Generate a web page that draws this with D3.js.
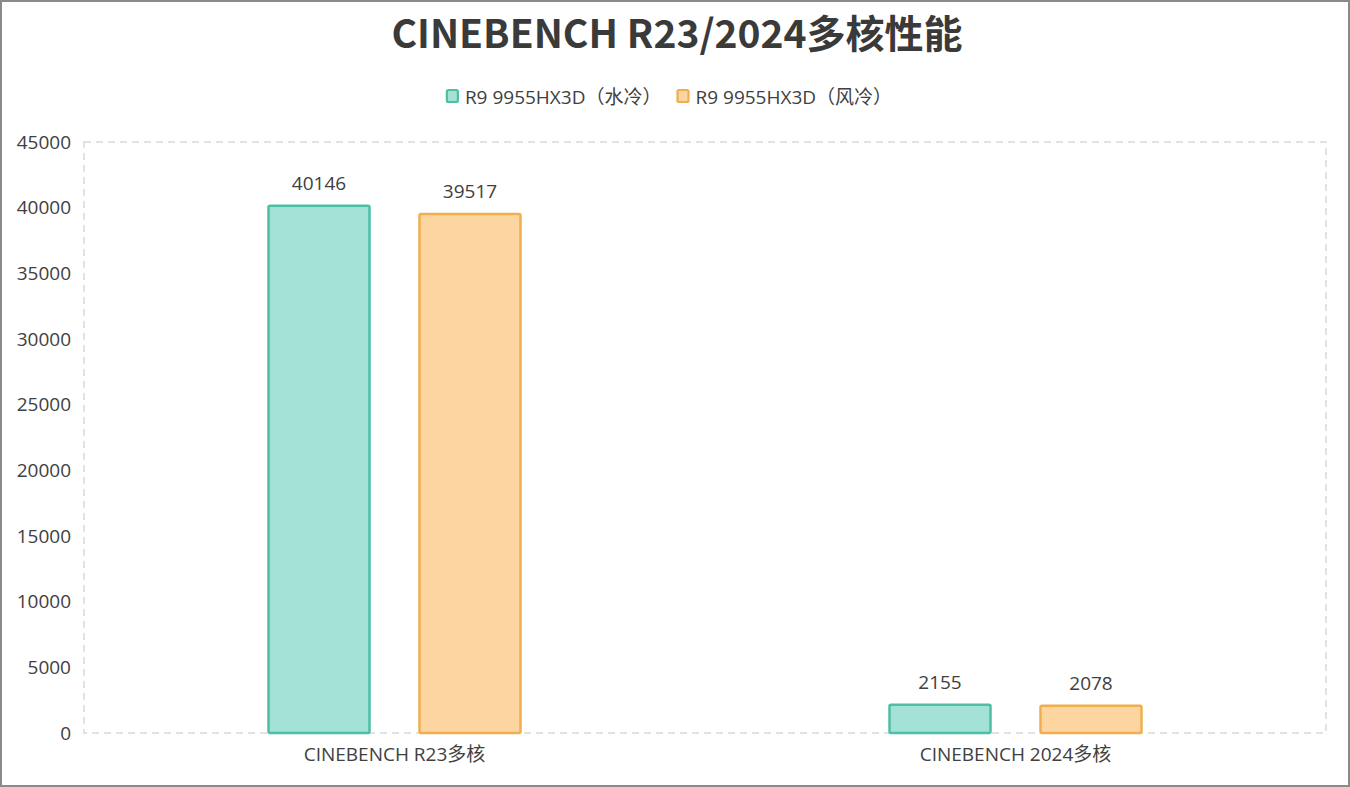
<!DOCTYPE html>
<html><head><meta charset="utf-8">
<script src="https://cdn.jsdelivr.net/npm/d3@7"></script>
<style>
html,body{margin:0;padding:0;background:#fff;}
svg{display:block;}
</style></head>
<body>
<svg id="chart" width="1350" height="787"></svg>
<script>
const title = "CINEBENCH R23/2024多核性能";
const categories = ["CINEBENCH R23多核", "CINEBENCH 2024多核"];
const seriesNames = ["R9 9955HX3D（水冷）", "R9 9955HX3D（风冷）"];
const waterCooled = [40146, 2155];
const airCooled = [39517, 2078];
const yTicks = [0, 5000, 10000, 15000, 20000, 25000, 30000, 35000, 40000, 45000];

const fills = ["#A3E2D5", "#FDD5A1"];
const strokes = ["#4DBFA6", "#F0AE4F"];
const font = "'Open Sans', 'Noto Sans CJK SC', sans-serif";
const titleFont = "'Noto Sans CJK SC', 'Noto Sans', sans-serif";
const textColor = "#404040";
const fs = 19;

const svg = d3.select("#chart");
const W = 1350, H = 787;
const m = {left: 84, right: 24, top: 142, bottom: 54};

svg.append("rect").attr("x",1).attr("y",1).attr("width",W-2).attr("height",H-2)
  .attr("fill","#fff").attr("stroke","#8a8a8a").attr("stroke-width",2);

const x0 = d3.scaleBand().domain(categories).range([m.left, W - m.right]);
const y = d3.scaleLinear().domain([0, 45000]).range([H - m.bottom, m.top]);

// plot frame dashed
svg.append("rect").attr("x", m.left).attr("y", m.top)
  .attr("width", W - m.right - m.left).attr("height", H - m.bottom - m.top)
  .attr("fill","none").attr("stroke","#d9d9d9").attr("stroke-width",1.5)
  .attr("stroke-dasharray","7,5");

// y axis labels
const yAxis = d3.axisLeft(y).tickValues(yTicks).tickSize(0).tickPadding(13).tickFormat(d3.format("d"));
const ya = svg.append("g").attr("transform", `translate(${m.left},0)`).call(yAxis);
ya.select(".domain").remove();
ya.selectAll("text").attr("font-family", font).attr("font-size", fs).attr("fill", textColor);

// x axis labels
const xAxis = d3.axisBottom(x0).tickSize(0).tickPadding(15);
const xa = svg.append("g").attr("transform", `translate(0,${H - m.bottom})`).call(xAxis);
xa.select(".domain").remove();
xa.selectAll("text").attr("font-family", font).attr("font-size", fs).attr("fill", textColor);

// bars
const barW = 101, gap = 50;
const x1 = d3.scaleOrdinal().domain([0,1]).range([-(gap/2 + barW), gap/2]);
const series = [waterCooled, airCooled];
series.forEach((vals, si) => {
  const gg = svg.append("g");
  gg.selectAll("rect").data(vals).join("rect")
    .attr("x", (d,i) => x0(categories[i]) + x0.bandwidth()/2 + x1(si))
    .attr("y", d => y(d))
    .attr("width", barW)
    .attr("height", d => y(0) - y(d))
    .attr("fill", fills[si]).attr("stroke", strokes[si]).attr("stroke-width", 2.5)
    .attr("rx", 1.5);
  gg.selectAll("text").data(vals).join("text")
    .attr("x", (d,i) => x0(categories[i]) + x0.bandwidth()/2 + x1(si) + barW/2)
    .attr("y", d => y(d) - 16)
    .attr("text-anchor","middle")
    .attr("font-family", font).attr("font-size", fs).attr("fill", textColor)
    .text(d => d);
});

// title
svg.append("text").attr("x", 677).attr("y", 48).attr("text-anchor","middle")
  .attr("font-family", titleFont).attr("font-weight", "bold").attr("font-size", 39)
  .attr("fill", "#3a3a3a").text(title);

// legend (laid out from measured text widths, centred)
const legend = svg.append("g").attr("transform", "translate(0,90)");
const items = seriesNames.map((name, i) => {
  const lg = legend.append("g");
  lg.append("rect").attr("x",1).attr("y",0).attr("width",11).attr("height",12).attr("rx",1.5)
    .attr("fill", fills[i]).attr("stroke", strokes[i]).attr("stroke-width", 2.2);
  const t = lg.append("text").attr("x", 19).attr("y", 13.5)
    .attr("font-family", font).attr("font-size", fs).attr("fill", textColor).text(name);
  return {lg, w: 19 + t.node().getComputedTextLength()};
});
const itemGap = 15;
const total = d3.sum(items, d => d.w) + itemGap * (items.length - 1);
let cx = 669 - total / 2;
items.forEach(it => { it.lg.attr("transform", `translate(${cx},0)`); cx += it.w + itemGap; });
</script>
</body></html>
